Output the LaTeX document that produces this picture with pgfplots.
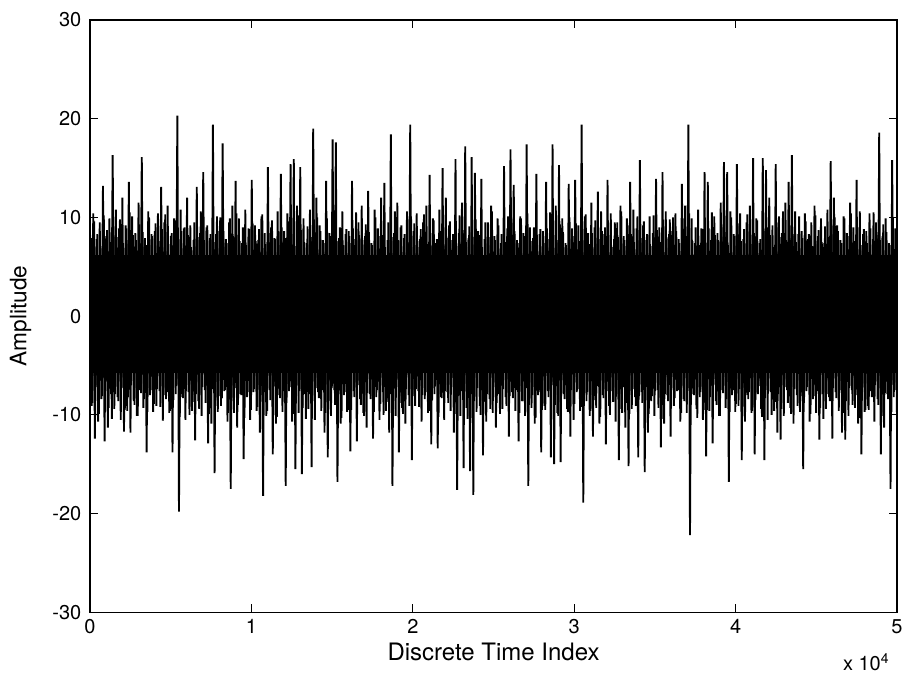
\documentclass[border=0pt]{standalone}
\usepackage{fontspec}
\setmainfont{TeX Gyre Heros}
\usepackage{pgfplots}
\usepackage{pgfplotstable}
\pgfplotsset{compat=1.18}
\pgfplotstableread[row sep=\\]{
y\\
8.6\\ -9.1\\ 10.4\\ -12.4\\ 7.8\\ -10.7\\ 9.5\\ -8.4\\ 13.2\\ -12.7\\ 8.1\\ -11.3\\ 9.9\\ -7.9\\ 16.3\\ -9.4\\ 10.8\\ -8.2\\ 8.9\\ -10.5\\
12.0\\ -11.7\\ 9.2\\ -9.6\\ 13.6\\ -11.8\\ 10.1\\ -8.6\\ 8.4\\ -10.1\\ 11.5\\ -7.5\\ 16.1\\ -9.3\\ 7.9\\ -13.8\\ 10.6\\ -8.0\\ 8.3\\ -9.7\\
8.6\\ -9.1\\ 10.4\\ -7.6\\ 13.1\\ -10.6\\ 9.5\\ -8.4\\ 11.2\\ -9.8\\ 8.1\\ -13.8\\ 9.9\\ -7.9\\ 20.3\\ -19.8\\ 10.8\\ -8.2\\ 8.9\\ -10.5\\
12.0\\ -7.7\\ 9.2\\ -9.6\\ 7.7\\ -12.6\\ 13.1\\ -8.6\\ 8.4\\ -10.1\\ 14.6\\ -7.5\\ 9.0\\ -12.9\\ 7.9\\ -10.9\\ 19.4\\ -15.9\\ 8.3\\ -9.7\\
8.6\\ -9.1\\ 17.5\\ -7.6\\ 7.8\\ -10.7\\ 9.5\\ -17.5\\ 11.2\\ -9.8\\ 13.7\\ -11.3\\ 9.9\\ -7.9\\ 7.4\\ -14.5\\ 10.8\\ -8.2\\ 8.9\\ -10.5\\
13.8\\ -7.7\\ 9.2\\ -9.6\\ 7.7\\ -11.8\\ 10.1\\ -18.2\\ 8.4\\ -10.1\\ 15.1\\ -7.5\\ 9.0\\ -14.0\\ 7.9\\ -10.9\\ 10.6\\ -8.0\\ 14.4\\ -9.7\\
8.6\\ -17.2\\ 10.4\\ -7.6\\ 15.4\\ -10.7\\ 15.9\\ -15.5\\ 11.2\\ -9.8\\ 15.1\\ -16.0\\ 9.9\\ -7.9\\ 7.4\\ -9.4\\ 10.8\\ -15.3\\ 19.0\\ -10.5\\
12.0\\ -7.7\\ 9.2\\ -9.6\\ 7.7\\ -11.8\\ 13.7\\ -14.3\\ 8.4\\ -10.1\\ 17.9\\ -7.5\\ 17.6\\ -16.8\\ 7.9\\ -10.9\\ 10.6\\ -8.0\\ 8.3\\ -9.7\\
8.6\\ -13.7\\ 13.7\\ -7.6\\ 7.8\\ -12.7\\ 9.5\\ -8.4\\ 11.2\\ -9.8\\ 8.1\\ -11.3\\ 12.7\\ -7.9\\ 7.4\\ -12.4\\ 10.8\\ -8.2\\ 8.9\\ -10.5\\
12.0\\ -7.7\\ 13.5\\ -9.6\\ 7.7\\ -11.8\\ 18.4\\ -17.2\\ 8.4\\ -10.1\\ 11.5\\ -13.8\\ 9.0\\ -9.3\\ 7.9\\ -10.9\\ 10.6\\ -8.0\\ 19.4\\ -14.6\\
8.6\\ -9.1\\ 10.4\\ -7.6\\ 7.8\\ -10.7\\ 9.5\\ -8.4\\ 11.2\\ -9.8\\ 14.3\\ -13.0\\ 9.9\\ -7.9\\ 7.4\\ -13.4\\ 10.8\\ -8.2\\ 15.0\\ -10.5\\
12.0\\ -7.7\\ 9.2\\ -9.6\\ 7.7\\ -11.8\\ 15.9\\ -17.6\\ 8.4\\ -10.1\\ 11.5\\ -15.4\\ 17.2\\ -9.3\\ 7.9\\ -15.7\\ 16.1\\ -18.1\\ 14.5\\ -9.7\\
8.6\\ -9.1\\ 13.9\\ -14.1\\ 7.8\\ -10.7\\ 9.5\\ -8.4\\ 11.2\\ -9.8\\ 8.1\\ -11.3\\ 9.9\\ -7.9\\ 7.4\\ -9.4\\ 15.2\\ -8.2\\ 8.9\\ -12.2\\
16.9\\ -7.7\\ 13.3\\ -9.6\\ 7.7\\ -12.7\\ 10.1\\ -8.6\\ 8.4\\ -10.1\\ 17.4\\ -17.2\\ 9.0\\ -9.3\\ 7.9\\ -10.9\\ 14.4\\ -8.0\\ 8.3\\ -13.8\\
8.6\\ -9.1\\ 13.6\\ -7.6\\ 7.8\\ -14.3\\ 17.4\\ -15.0\\ 11.2\\ -9.8\\ 15.3\\ -14.8\\ 9.9\\ -7.9\\ 7.4\\ -9.4\\ 13.4\\ -12.2\\ 8.9\\ -10.5\\
13.8\\ -7.7\\ 9.2\\ -9.6\\ 19.4\\ -18.9\\ 10.1\\ -8.6\\ 8.4\\ -10.1\\ 11.5\\ -12.2\\ 9.0\\ -9.3\\ 12.6\\ -10.9\\ 10.6\\ -8.0\\ 8.3\\ -13.0\\
13.8\\ -9.1\\ 10.4\\ -7.6\\ 7.8\\ -10.7\\ 9.5\\ -14.6\\ 11.2\\ -9.8\\ 8.1\\ -11.3\\ 9.9\\ -15.2\\ 13.6\\ -9.4\\ 10.8\\ -8.2\\ 8.9\\ -14.3\\
15.8\\ -7.7\\ 9.2\\ -15.8\\ 7.7\\ -11.8\\ 10.1\\ -8.6\\ 8.4\\ -10.1\\ 13.9\\ -7.5\\ 9.0\\ -13.3\\ 14.6\\ -10.9\\ 10.6\\ -8.0\\ 8.3\\ -12.2\\
8.6\\ -9.1\\ 10.4\\ -7.6\\ 7.8\\ -10.7\\ 13.4\\ -8.4\\ 11.2\\ -9.8\\ 19.4\\ -22.2\\ 9.9\\ -7.9\\ 7.4\\ -9.4\\ 10.8\\ -8.2\\ 8.9\\ -10.5\\
14.6\\ -14.2\\ 13.6\\ -9.6\\ 7.7\\ -12.9\\ 10.1\\ -8.6\\ 8.4\\ -10.1\\ 11.5\\ -7.5\\ 15.6\\ -9.3\\ 14.6\\ -16.8\\ 10.6\\ -8.0\\ 8.3\\ -9.7\\
15.4\\ -9.1\\ 10.4\\ -14.6\\ 7.8\\ -10.7\\ 9.5\\ -8.4\\ 11.2\\ -9.8\\ 16.0\\ -14.0\\ 9.9\\ -7.9\\ 7.4\\ -9.4\\ 16.0\\ -14.6\\ 14.8\\ -10.5\\
12.0\\ -7.7\\ 9.2\\ -9.6\\ 15.4\\ -11.8\\ 10.1\\ -12.5\\ 8.4\\ -10.1\\ 11.5\\ -7.5\\ 13.6\\ -9.3\\ 16.3\\ -10.9\\ 10.6\\ -8.0\\ 8.3\\ -9.7\\
8.6\\ -15.5\\ 10.4\\ -7.6\\ 7.8\\ -10.7\\ 9.5\\ -8.4\\ 11.2\\ -9.8\\ 8.1\\ -12.5\\ 9.9\\ -7.9\\ 7.4\\ -9.4\\ 10.8\\ -8.2\\ 15.7\\ -12.4\\
12.0\\ -7.7\\ 9.2\\ -9.6\\ 7.7\\ -11.8\\ 10.1\\ -12.5\\ 8.4\\ -10.1\\ 11.5\\ -7.5\\ 9.0\\ -9.3\\ 13.8\\ -10.9\\ 10.6\\ -14.0\\ 8.3\\ -9.7\\
8.6\\ -9.1\\ 10.4\\ -7.6\\ 7.8\\ -10.7\\ 9.5\\ -8.4\\ 18.6\\ -14.0\\ 8.1\\ -11.3\\ 9.9\\ -7.9\\ 7.4\\ -17.5\\ 15.8\\ -8.2\\ 8.9\\ -10.5\\
}\sig
\pgfplotstableread[row sep=\\]{
y\\
7.9\\ -8.8\\ 9.6\\ -7.2\\ 8.3\\ -9.9\\ 7.1\\ -8.1\\ 10.2\\ -7.6\\ 8.7\\ -9.3\\ 7.5\\ -10.4\\ 9.1\\ -7.9\\ 8.0\\ -8.6\\ 9.8\\ -7.3\\
7.4\\ -9.5\\ 8.9\\ -8.2\\ 10.5\\ -7.0\\ 8.2\\ -9.0\\ 7.7\\ -10.1\\ 9.3\\ -7.8\\ 8.5\\ -8.4\\ 7.2\\ -9.7\\ 10.0\\ -7.5\\ 8.1\\ -8.9\\
9.4\\ -7.4\\ 7.6\\ -9.2\\ 8.8\\ -8.0\\ 10.3\\ -7.7\\ 7.3\\ -9.6\\ 8.4\\ -8.5\\ 9.7\\ -7.1\\ 7.8\\ -10.2\\ 8.6\\ -8.3\\ 9.0\\ -7.6\\
8.2\\ -10.0\\ 7.0\\ -8.7\\ 9.5\\ -7.9\\ 8.0\\ -9.4\\ 10.6\\ -7.2\\ 7.7\\ -8.8\\ 9.2\\ -9.9\\ 8.3\\ -7.4\\ 7.5\\ -9.1\\ 10.1\\ -8.1\\
10.0\\ -8.3\\ 8.6\\ -7.5\\ 7.4\\ -9.8\\ 9.9\\ -8.6\\ 8.1\\ -7.3\\ 10.4\\ -9.0\\ 7.6\\ -8.0\\ 9.0\\ -10.3\\ 7.2\\ -7.7\\ 8.8\\ -9.5\\
9.4\\ -7.4\\ 7.6\\ -9.2\\ 8.8\\ -8.0\\ 10.3\\ -7.7\\ 7.3\\ -9.6\\ 8.4\\ -8.5\\ 9.7\\ -7.1\\ 7.8\\ -10.2\\ 8.6\\ -8.3\\ 9.0\\ -7.6\\
7.9\\ -8.8\\ 9.6\\ -7.2\\ 8.3\\ -9.9\\ 7.1\\ -8.1\\ 10.2\\ -7.6\\ 8.7\\ -9.3\\ 7.5\\ -10.4\\ 9.1\\ -7.9\\ 8.0\\ -8.6\\ 9.8\\ -7.3\\
10.0\\ -8.3\\ 8.6\\ -7.5\\ 7.4\\ -9.8\\ 9.9\\ -8.6\\ 8.1\\ -7.3\\ 10.4\\ -9.0\\ 7.6\\ -8.0\\ 9.0\\ -10.3\\ 7.2\\ -7.7\\ 8.8\\ -9.5\\
7.4\\ -9.5\\ 8.9\\ -8.2\\ 10.5\\ -7.0\\ 8.2\\ -9.0\\ 7.7\\ -10.1\\ 9.3\\ -7.8\\ 8.5\\ -8.4\\ 7.2\\ -9.7\\ 10.0\\ -7.5\\ 8.1\\ -8.9\\
8.2\\ -10.0\\ 7.0\\ -8.7\\ 9.5\\ -7.9\\ 8.0\\ -9.4\\ 10.6\\ -7.2\\ 7.7\\ -8.8\\ 9.2\\ -9.9\\ 8.3\\ -7.4\\ 7.5\\ -9.1\\ 10.1\\ -8.1\\
9.4\\ -7.4\\ 7.6\\ -9.2\\ 8.8\\ -8.0\\ 10.3\\ -7.7\\ 7.3\\ -9.6\\ 8.4\\ -8.5\\ 9.7\\ -7.1\\ 7.8\\ -10.2\\ 8.6\\ -8.3\\ 9.0\\ -7.6\\
7.9\\ -8.8\\ 9.6\\ -7.2\\ 8.3\\ -9.9\\ 7.1\\ -8.1\\ 10.2\\ -7.6\\ 8.7\\ -9.3\\ 7.5\\ -10.4\\ 9.1\\ -7.9\\ 8.0\\ -8.6\\ 9.8\\ -7.3\\
8.2\\ -10.0\\ 7.0\\ -8.7\\ 9.5\\ -7.9\\ 8.0\\ -9.4\\ 10.6\\ -7.2\\ 7.7\\ -8.8\\ 9.2\\ -9.9\\ 8.3\\ -7.4\\ 7.5\\ -9.1\\ 10.1\\ -8.1\\
10.0\\ -8.3\\ 8.6\\ -7.5\\ 7.4\\ -9.8\\ 9.9\\ -8.6\\ 8.1\\ -7.3\\ 10.4\\ -9.0\\ 7.6\\ -8.0\\ 9.0\\ -10.3\\ 7.2\\ -7.7\\ 8.8\\ -9.5\\
7.4\\ -9.5\\ 8.9\\ -8.2\\ 10.5\\ -7.0\\ 8.2\\ -9.0\\ 7.7\\ -10.1\\ 9.3\\ -7.8\\ 8.5\\ -8.4\\ 7.2\\ -9.7\\ 10.0\\ -7.5\\ 8.1\\ -8.9\\
9.4\\ -7.4\\ 7.6\\ -9.2\\ 8.8\\ -8.0\\ 10.3\\ -7.7\\ 7.3\\ -9.6\\ 8.4\\ -8.5\\ 9.7\\ -7.1\\ 7.8\\ -10.2\\ 8.6\\ -8.3\\ 9.0\\ -7.6\\
8.2\\ -10.0\\ 7.0\\ -8.7\\ 9.5\\ -7.9\\ 8.0\\ -9.4\\ 10.6\\ -7.2\\ 7.7\\ -8.8\\ 9.2\\ -9.9\\ 8.3\\ -7.4\\ 7.5\\ -9.1\\ 10.1\\ -8.1\\
7.9\\ -8.8\\ 9.6\\ -7.2\\ 8.3\\ -9.9\\ 7.1\\ -8.1\\ 10.2\\ -7.6\\ 8.7\\ -9.3\\ 7.5\\ -10.4\\ 9.1\\ -7.9\\ 8.0\\ -8.6\\ 9.8\\ -7.3\\
10.0\\ -8.3\\ 8.6\\ -7.5\\ 7.4\\ -9.8\\ 9.9\\ -8.6\\ 8.1\\ -7.3\\ 10.4\\ -9.0\\ 7.6\\ -8.0\\ 9.0\\ -10.3\\ 7.2\\ -7.7\\ 8.8\\ -9.5\\
7.4\\ -9.5\\ 8.9\\ -8.2\\ 10.5\\ -7.0\\ 8.2\\ -9.0\\ 7.7\\ -10.1\\ 9.3\\ -7.8\\ 8.5\\ -8.4\\ 7.2\\ -9.7\\ 10.0\\ -7.5\\ 8.1\\ -8.9\\
9.4\\ -7.4\\ 7.6\\ -9.2\\ 8.8\\ -8.0\\ 10.3\\ -7.7\\ 7.3\\ -9.6\\ 8.4\\ -8.5\\ 9.7\\ -7.1\\ 7.8\\ -10.2\\ 8.6\\ -8.3\\ 9.0\\ -7.6\\
8.2\\ -10.0\\ 7.0\\ -8.7\\ 9.5\\ -7.9\\ 8.0\\ -9.4\\ 10.6\\ -7.2\\ 7.7\\ -8.8\\ 9.2\\ -9.9\\ 8.3\\ -7.4\\ 7.5\\ -9.1\\ 10.1\\ -8.1\\
7.9\\ -8.8\\ 9.6\\ -7.2\\ 8.3\\ -9.9\\ 7.1\\ -8.1\\ 10.2\\ -7.6\\ 8.7\\ -9.3\\ 7.5\\ -10.4\\ 9.1\\ -7.9\\ 8.0\\ -8.6\\ 9.8\\ -7.3\\
10.0\\ -8.3\\ 8.6\\ -7.5\\ 7.4\\ -9.8\\ 9.9\\ -8.6\\ 8.1\\ -7.3\\ 10.4\\ -9.0\\ 7.6\\ -8.0\\ 9.0\\ -10.3\\ 7.2\\ -7.7\\ 8.8\\ -9.5\\
7.4\\ -9.5\\ 8.9\\ -8.2\\ 10.5\\ -7.0\\ 8.2\\ -9.0\\ 7.7\\ -10.1\\ 9.3\\ -7.8\\ 8.5\\ -8.4\\ 7.2\\ -9.7\\ 10.0\\ -7.5\\ 8.1\\ -8.9\\
}\sigb

\begin{document}
\begin{tikzpicture}
\useasboundingbox (-67.5pt,-49.5pt) rectangle (611.75pt,459pt);
\begin{axis}[
  at={(0,0)}, anchor=south west,
  scale only axis, width=605pt, height=444pt,
  xmin=0, xmax=50000, ymin=-30, ymax=30,
  xtick={0,10000,20000,30000,40000,50000},
  xticklabels={0,1,2,3,4,5},
  ytick={-30,-20,-10,0,10,20,30},
  scaled x ticks=false,
  tick align=inside,
  major tick length=6pt,
  /pgf/number format/assume math mode=true,
  every tick label/.append style={font=\fontsize{15}{17}\selectfont},
  xticklabel style={yshift=-2pt},
  yticklabel style={xshift=-3pt},
  xlabel={Discrete Time Index},
  ylabel={Amplitude},
  xlabel style={font=\fontsize{18}{20}\selectfont, at={(axis description cs:0.5,-0.081)}, anchor=base},
  ylabel style={font=\fontsize{17}{19}\selectfont, at={(axis description cs:-0.086,0.5)}, anchor=center},
  axis line style={line width=0.8pt},
  tick style={line width=0.8pt, black},
]
\addplot[fill=black, draw=none] coordinates {(0,6.2) (50000,6.2)} \closedcycle;
\addplot[fill=black, draw=none] coordinates {(0,-5.8) (50000,-5.8)} \closedcycle;
\addplot[black, line width=1.4pt] table[x expr=50+\coordindex*100.2, y=y] {\sigb};
\addplot[black, line width=1.4pt] table[x expr=\coordindex*100.2, y=y] {\sig};
\end{axis}
\node[anchor=base west, font=\fontsize{15}{17}\selectfont] at (561pt,-43.5pt) {x 10\textsuperscript{4}};
\end{tikzpicture}
\end{document}
